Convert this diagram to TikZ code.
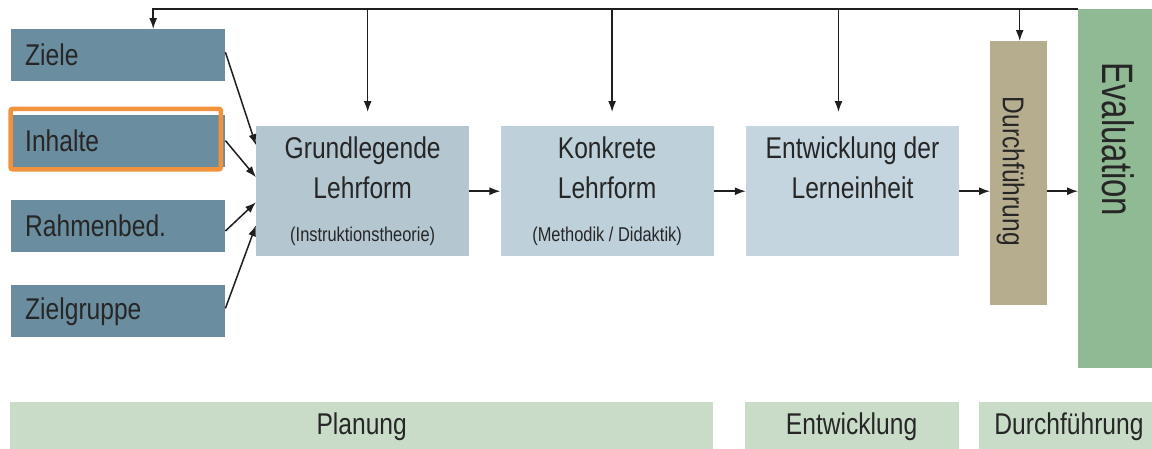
\documentclass[tikz,border=0pt]{standalone}
\usepackage{fontspec}
\setmainfont[FakeStretch=0.82]{Liberation Sans}
\newfontfamily\evalfont[FakeStretch=0.75]{Liberation Sans}
\usetikzlibrary{positioning,arrows.meta}

\definecolor{sideblue}{HTML}{6A8D9F}
\definecolor{grundblue}{HTML}{B4C6D0}
\definecolor{konkblue}{HTML}{BED0DA}
\definecolor{entwblue}{HTML}{C5D5DF}
\definecolor{durchtan}{HTML}{B5AD8E}
\definecolor{evalgreen}{HTML}{8FBA94}
\definecolor{phasegreen}{HTML}{C9DCC8}
\definecolor{hiorange}{HTML}{F3923C}
\definecolor{textgray}{HTML}{262626}
\definecolor{linegray}{HTML}{1E1E1E}

\tikzset{
  sidebox/.style={fill=sideblue, minimum height=52pt, text width=186pt, inner xsep=14pt, inner ysep=0pt, align=left, text=textgray, font=\fontsize{30}{36}\selectfont},
  stepbox/.style={minimum width=213pt, minimum height=130pt, inner sep=0pt, align=center, text=textgray, font=\fontsize{30}{40}\selectfont},
  phasebar/.style={fill=phasegreen, minimum height=50pt, inner sep=0pt, text=textgray, font=\fontsize{30}{36}\selectfont},
  flow/.style={draw=linegray, line width=1.5pt, -{Latex[length=11pt,width=8pt]}},
  hilite/.style={draw=hiorange, line width=4.5pt, rounded corners=2pt}
}
\newcommand{\subline}[1]{{\fontsize{20}{24}\selectfont #1}}

\begin{document}
\begin{tikzpicture}[x=1pt,y=-1pt]
  \useasboundingbox (0,0) rectangle (1152,448);

  % inputs on the left
  \node[sidebox, anchor=north west] (ziele) at (11,29) {Ziele};
  \node[sidebox, below=33pt of ziele] (inhalte) {Inhalte};
  \node[sidebox, below=33pt of inhalte] (rahmen) {Rahmenbed.};
  \node[sidebox, below=33pt of rahmen] (zielgruppe) {Zielgruppe};
  \draw[hilite] ([shift={(-0.5pt,5.5pt)}]inhalte.north west) rectangle ([shift={(-4.5pt,-2.5pt)}]inhalte.south east);

  % main steps
  \node[stepbox, fill=grundblue, anchor=north west] (grund) at (256,126) {Grundlegende\\Lehrform\\[3pt]\subline{(Instruktionstheorie)}};
  \node[stepbox, fill=konkblue, right=31pt of grund] (konkret) {Konkrete\\Lehrform\\[3pt]\subline{(Methodik / Didaktik)}};
  \node[stepbox, fill=entwblue, right=32pt of konkret] (entw) {Entwicklung der\\Lerneinheit\\[3pt]\subline{\phantom{(}}};
  \node[fill=durchtan, minimum width=57pt, minimum height=264pt, inner sep=0pt, anchor=north west] (durch) at (990,41) {};
  \node[rotate=-90, text=textgray, font=\fontsize{30}{36}\selectfont] (durchtext) at ([xshift=-8pt,yshift=2pt]durch.center) {Durchführung};
  \node[fill=evalgreen, minimum width=80pt, minimum height=359pt, inner sep=0pt, anchor=north west] (eval) at (1078,9) {};
  \node[rotate=-90, anchor=base west, inner sep=0pt, text=textgray, font=\evalfont\fontsize{44}{50}\selectfont] (evaltext) at ([xshift=24pt,yshift=-53pt]eval.north west) {Evaluation};

  % phases at the bottom
  \node[phasebar, minimum width=703pt, anchor=north west] (planung) at (10,402) {Planung};
  \node[phasebar, minimum width=214pt, right=31pt of planung] (entwphase) {Entwicklung};
  \node[phasebar, minimum width=180pt, right=20pt of entwphase] (durchphase) {Durchführung};

  % connectors
  \draw[flow] ([yshift=3pt]ziele.east) -- ([yshift=46pt]grund.west);
  \draw[flow] (inhalte.east) -- ([yshift=14pt]grund.west);
  \draw[flow] ([yshift=-5pt]rahmen.east) -- ([yshift=-11pt]grund.west);
  \draw[flow] ([yshift=3pt]zielgruppe.east) -- ([yshift=-34pt]grund.west);
  \draw[flow] (grund) -- (konkret);
  \draw[flow] (konkret) -- (entw);
  \draw[flow] (entw) -- (entw -| durch.west);
  \draw[flow] (durch.east |- entw) -- (eval.west |- entw);

  % feedback from the evaluation
  \draw[flow] (eval.north west) -| ([xshift=35pt]ziele.north);
  \draw[flow] ([xshift=5pt]grund.north |- eval.north) -- ([xshift=5pt,yshift=14pt]grund.north);
  \draw[flow] ([xshift=5pt]konkret.north |- eval.north) -- ([xshift=5pt,yshift=14pt]konkret.north);
  \draw[flow] ([xshift=-14pt]entw.north |- eval.north) -- ([xshift=-14pt,yshift=14pt]entw.north);
  \draw[flow] ([xshift=1pt]durch.north |- eval.north) -- ([xshift=1pt]durch.north);
\end{tikzpicture}
\end{document}
